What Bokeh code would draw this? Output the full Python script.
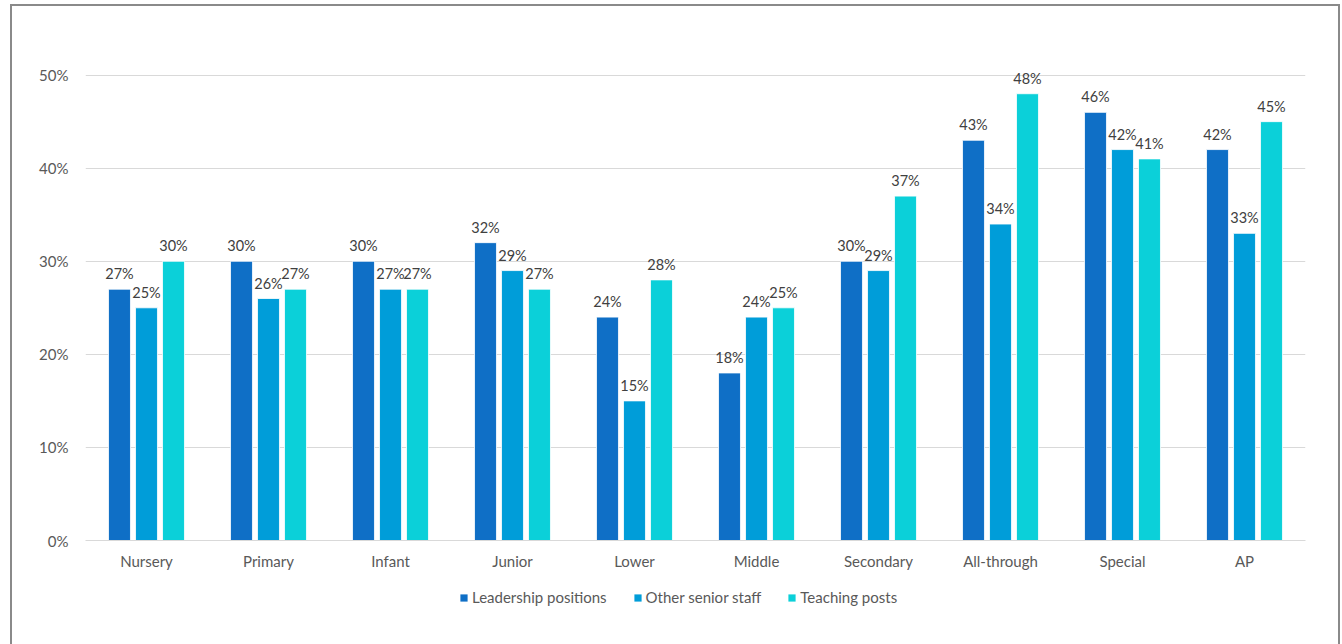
from bokeh.plotting import figure
from bokeh.models import ColumnDataSource, FactorRange, FixedTicker, Legend, LegendItem, NumeralTickFormatter, Range1d
from bokeh.layouts import column
from bokeh.transform import dodge
from bokeh.core.properties import value
from bokeh.embed import file_html
from bokeh.resources import INLINE

categories = ["Nursery", "Primary", "Infant", "Junior", "Lower", "Middle",
              "Secondary", "All-through", "Special", "AP"]
leadership = [27, 30, 30, 32, 24, 18, 30, 43, 46, 42]
other_senior = [25, 26, 27, 29, 15, 24, 29, 34, 42, 33]
teaching = [30, 27, 27, 27, 28, 25, 37, 48, 41, 45]
series_names = ["Leadership positions", "Other senior staff", "Teaching posts"]
y_ticks = [0, 0.1, 0.2, 0.3, 0.4, 0.5]

colors = ["#0F6FC6", "#009DD9", "#0BD0D9"]
FONT = "Lato"

src = ColumnDataSource(dict(
    cat=categories,
    lead=[v / 100 for v in leadership],
    oth=[v / 100 for v in other_senior],
    tea=[v / 100 for v in teaching],
    lead_t=[f"{v}%" for v in leadership],
    oth_t=[f"{v}%" for v in other_senior],
    tea_t=[f"{v}%" for v in teaching],
))

p = figure(x_range=FactorRange(*categories, range_padding=0), y_range=(0, 0.52),
           frame_width=1220, frame_height=484, output_backend="svg", toolbar_location=None,
           min_border_left=73, min_border_right=33, min_border_top=50, min_border_bottom=0)
p.outline_line_color = None
p.background_fill_color = "white"
p.border_fill_color = "white"

offsets = [-0.2213, 0.0, 0.2213]
keys = [("lead", "lead_t"), ("oth", "oth_t"), ("tea", "tea_t")]
for off, (k, kt), c in zip(offsets, keys, colors):
    p.vbar(x=dodge("cat", off, range=p.x_range), top=k, width=0.18, source=src,
           fill_color=c, line_color="white", line_width=0.8)
    p.text(x=dodge("cat", off, range=p.x_range), y=k, text=kt, source=src,
           text_align="center", text_baseline="bottom", y_offset=-7,
           text_font=value(FONT), text_font_size="14.5px", text_color="#404040")

p.yaxis.ticker = FixedTicker(ticks=y_ticks)
p.yaxis.formatter = NumeralTickFormatter(format="0%")
p.yaxis.axis_line_color = None
p.yaxis.major_tick_line_color = None
p.yaxis.minor_tick_line_color = None
p.yaxis.major_label_standoff = 11
p.yaxis.major_label_text_font = FONT
p.yaxis.major_label_text_font_size = "15px"
p.yaxis.major_label_text_color = "#595959"

p.xaxis.axis_line_color = "#d9d9d9"
p.xaxis.axis_line_width = 1
p.xaxis.major_tick_line_color = None
p.xaxis.minor_tick_line_color = None
p.xaxis.major_tick_out = 0
p.xaxis.major_label_standoff = 11
p.xaxis.major_label_text_font = FONT
p.xaxis.major_label_text_font_size = "15px"
p.xaxis.major_label_text_color = "#595959"

p.xgrid.grid_line_color = None
p.ygrid.grid_line_color = "#d9d9d9"
p.ygrid.grid_line_width = 1

# legend strip below the chart (key renderers sit outside its visible range)
lg = figure(x_range=Range1d(0, 1), y_range=Range1d(0, 1), frame_width=1326, frame_height=74,
            output_backend="svg", toolbar_location=None, x_axis_location=None, y_axis_location=None,
            min_border=0)
lg.outline_line_color = None
lg.grid.visible = False
key_src = ColumnDataSource(dict(x=[5], top=[5]))
leg_renderers = [lg.vbar(x="x", top="top", width=0.1, source=key_src, fill_color=c, line_color=None)
                 for c in colors]
legend = Legend(items=[LegendItem(label=n, renderers=[r]) for n, r in zip(series_names, leg_renderers)],
                orientation="horizontal", location=(447, 40),
                glyph_width=9, glyph_height=9, label_standoff=4, spacing=26,
                label_text_font=FONT, label_text_font_size="15px", label_text_color="#595959",
                border_line_color=None, background_fill_alpha=0, margin=0, padding=0)
lg.add_layout(legend, "center")

layout = column(p, lg, spacing=0,
                styles={"margin-left": "10px", "margin-top": "4px",
                        "border-left": "2px solid #8a8a8a", "border-top": "2px solid #8a8a8a",
                        "border-right": "2px solid #8a8a8a"})

open("out.html", "w").write(file_html(layout, INLINE))
